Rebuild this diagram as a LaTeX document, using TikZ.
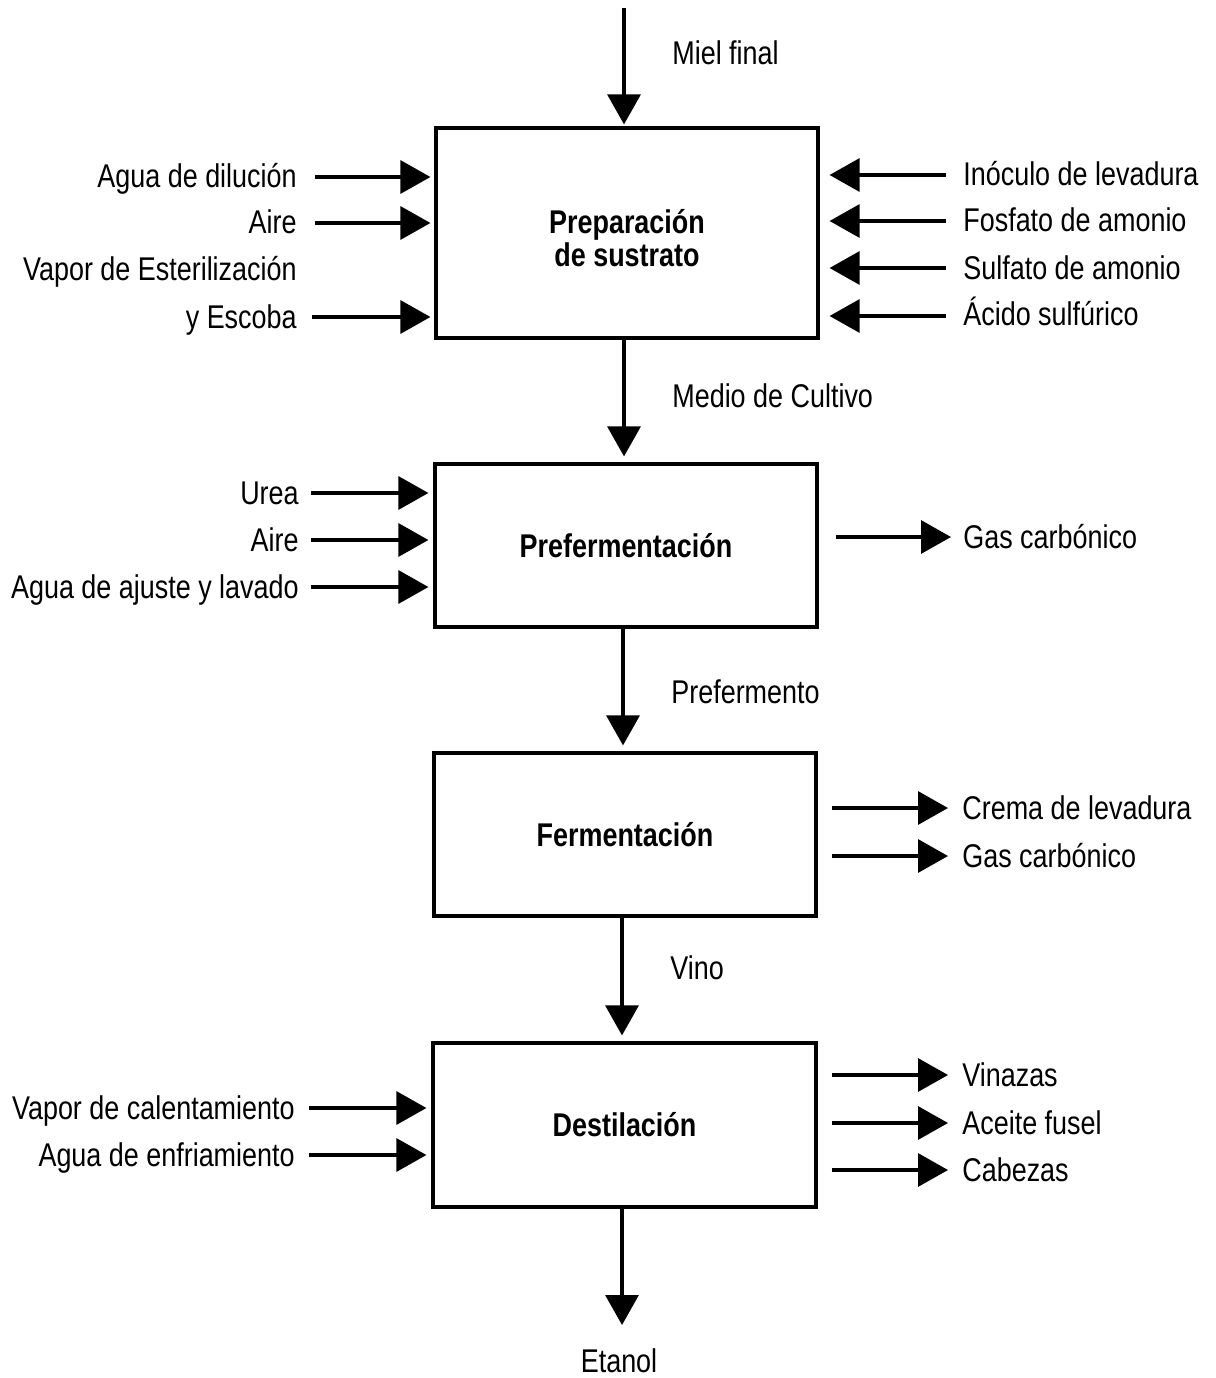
\documentclass[tikz,border=0pt]{standalone}
\usepackage{fontspec}
\setmainfont{Liberation Sans}[FakeStretch=0.82]
\usetikzlibrary{arrows.meta}
\begin{document}
\begin{tikzpicture}[x=0.02cm,y=-0.02cm,
  every node/.style={font=\fontsize{18.7pt}{22pt}\selectfont, inner sep=0pt},
  box/.style={draw, line width=0.065cm, font=\fontsize{18.7pt}{18.7pt}\selectfont\bfseries, align=center},
  arr/.style={line width=0.065cm, -{Triangle[length=0.6cm,width=0.66cm]}},
  lbl/.style={anchor=base east},
  rlbl/.style={anchor=base west}]
\useasboundingbox (0,0) rectangle (1215,1378);

% boxes
\node[box, minimum width=7.64cm, minimum height=4.2cm] (b1) at (627,233) {\rule{0pt}{20pt}Preparación\\de sustrato};
\node[box, minimum width=7.64cm, minimum height=3.26cm] (b2) at (626,545.5) {Prefermentación};
\node[box, minimum width=7.64cm, minimum height=3.26cm] (b3) at (625,834.5) {Fermentación};
\node[box, minimum width=7.66cm, minimum height=3.28cm] (b4) at (624.5,1125) {Destilación};

% main vertical flow
\coordinate (top) at (624,8);
\draw[arr, shorten >=0.04cm] (top) -- (top |- b1.north);
\node[rlbl] (mf) at (672,65) {Miel final};
\draw[arr, shorten >=0.12cm] (b1.south -| top) -- (top |- b2.north);
\node[rlbl] (mc) at (672,407) {Medio de Cultivo};
\coordinate (v2) at (623,0);
\draw[arr, shorten >=0.12cm] (b2.south -| v2) -- (v2 |- b3.north);
\node[rlbl] (pf) at (671,703) {Prefermento};
\coordinate (v3) at (622,0);
\draw[arr, shorten >=0.12cm] (b3.south -| v3) -- (v3 |- b4.north);
\node[rlbl] (vi) at (670,979) {Vino};
\coordinate (eta) at (622,1325);
\draw[arr] (b4.south -| eta) -- (eta);
\node[anchor=base] (et) at (619,1372) {Etanol};

% box 1 left inputs
\coordinate (i1) at (315,177);
\coordinate (i2) at (315,223);
\coordinate (i3) at (312,317);
\foreach \c in {i1,i2,i3} \draw[arr, shorten >=0.08cm] (\c) -- (\c -| b1.west);
\node[lbl] (t1) at (297,188) {Agua de dilución};
\node[lbl] (t2) at (297,234) {Aire};
\node[lbl] (t3) at (297,280) {Vapor de Esterilización};
\node[lbl] (t4) at (297,328) {y Escoba};

% box 1 right inputs
\coordinate (j1) at (946,175);
\coordinate (j2) at (946,221);
\coordinate (j3) at (946,268);
\coordinate (j4) at (946,316);
\foreach \c in {j1,j2,j3,j4} \draw[arr, shorten >=0.2cm] (\c) -- (\c -| b1.east);
\node[rlbl] (r1) at (963,186) {Inóculo de levadura};
\node[rlbl] (r2) at (963,232) {Fosfato de amonio};
\node[rlbl] (r3) at (963,279) {Sulfato de amonio};
\node[rlbl] (r4) at (963,325) {Ácido sulfúrico};

% box 2 left inputs
\coordinate (k1) at (311,493);
\coordinate (k2) at (311,540);
\coordinate (k3) at (311,587);
\foreach \c in {k1,k2,k3} \draw[arr, shorten >=0.1cm] (\c) -- (\c -| b2.west);
\node[lbl] (u1) at (299,504) {Urea};
\node[lbl] (u2) at (299,551) {Aire};
\node[lbl] (u3) at (299,598) {Agua de ajuste y lavado};

% box 2 right output
\coordinate (m1) at (951,537);
\draw[arr, shorten <=0.34cm] (m1 -| b2.east) -- (m1);
\node[rlbl] (g2) at (963,548) {Gas carbónico};

% box 3 right outputs
\coordinate (n1) at (948,808);
\coordinate (n2) at (948,856);
\foreach \c in {n1,n2} \draw[arr, shorten <=0.28cm] (\c -| b3.east) -- (\c);
\node[rlbl] (c1) at (962,819) {Crema de levadura};
\node[rlbl] (c2) at (962,867) {Gas carbónico};

% box 4 left inputs
\coordinate (p1) at (309,1108);
\coordinate (p2) at (309,1155);
\foreach \c in {p1,p2} \draw[arr, shorten >=0.1cm] (\c) -- (\c -| b4.west);
\node[lbl] (d1) at (295,1119) {Vapor de calentamiento};
\node[lbl] (d2) at (295,1166) {Agua de enfriamiento};

% box 4 right outputs
\coordinate (q1) at (948,1075);
\coordinate (q2) at (948,1123);
\coordinate (q3) at (948,1170);
\foreach \c in {q1,q2,q3} \draw[arr, shorten <=0.28cm] (\c -| b4.east) -- (\c);
\node[rlbl] (o1) at (962,1086) {Vinazas};
\node[rlbl] (o2) at (962,1134) {Aceite fusel};
\node[rlbl] (o3) at (962,1181) {Cabezas};
\end{tikzpicture}
\end{document}
